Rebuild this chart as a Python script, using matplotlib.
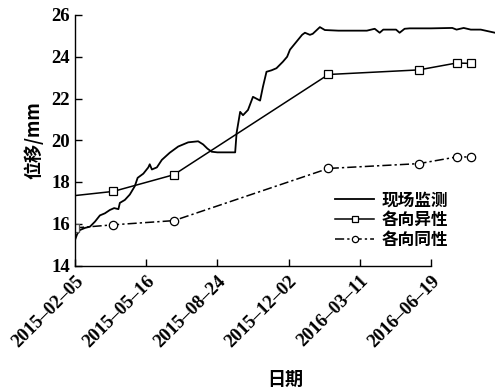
import numpy as np
import pandas as pd
import matplotlib
matplotlib.use("Agg")
import matplotlib.pyplot as plt

plt.rcParams['font.family'] = ['Liberation Serif', 'Noto Sans CJK SC']

start = pd.Timestamp("2015-02-05")

# field monitoring curve (days after 2015-02-05, displacement mm)
mon_days = [0, 3, 7, 14, 21, 28, 35, 42, 49, 55, 61, 63, 70, 77, 84, 88, 96, 103, 105, 108,
            115, 122, 133, 145, 159, 173, 180, 186, 192, 200, 210, 225, 227, 232, 236, 243,
            250, 260, 264, 269, 276, 283, 292, 298, 302, 319, 323, 330, 334, 344, 351, 370,
            390, 410, 421, 428, 433, 440, 451, 456, 463, 470, 500, 530, 536, 546, 556, 570, 590]
mon_vals = [15.22, 15.5, 15.7, 15.8, 15.86, 16.1, 16.4, 16.5, 16.66, 16.75, 16.7, 17.0, 17.14,
            17.4, 17.8, 18.2, 18.4, 18.7, 18.85, 18.6, 18.7, 19.06, 19.4, 19.7, 19.9, 19.95,
            19.8, 19.6, 19.45, 19.42, 19.42, 19.42, 20.35, 21.36, 21.2, 21.45, 22.08, 21.9,
            22.56, 23.28, 23.35, 23.45, 23.76, 24.0, 24.34, 25.05, 25.15, 25.05, 25.1, 25.42,
            25.28, 25.25, 25.25, 25.25, 25.34, 25.15, 25.3, 25.3, 25.3, 25.15, 25.34, 25.36,
            25.36, 25.38, 25.3, 25.38, 25.3, 25.3, 25.15]

# anisotropic model
aniso_days = [0, 54, 139, 356, 483, 536, 556]
aniso_vals = [17.35, 17.55, 18.35, 23.15, 23.37, 23.7, 23.68]

# isotropic model
iso_days = [0, 54, 139, 356, 483, 536, 556]
iso_vals = [15.8, 15.95, 16.15, 18.65, 18.88, 19.2, 19.2]

tick_labels = ["2015-02-05", "2015-05-16", "2015-08-24", "2015-12-02", "2016-03-11", "2016-06-19"]

fig = plt.figure(figsize=(4.95, 3.88), dpi=100)
ax = fig.add_axes([75/495, 1 - 265.5/388, 420/495, 250.5/388])

ax.plot(mon_days, mon_vals, color='black', lw=1.3, label='现场监测')
ax.plot(aniso_days, aniso_vals, color='black', lw=1.1, marker='s', markevery=list(range(1, 7)),
        ms=5.5, mfc='white', mec='black', mew=0.9, label='各向异性')
ax.plot(iso_days, iso_vals, color='black', lw=1.1, ls=(0, (6, 2, 1.5, 2)), marker='o',
        markevery=list(range(1, 7)), ms=6, mfc='white', mec='black', mew=0.9, label='各向同性')
ax.plot(iso_days[:1], iso_vals[:1], ls='none', marker='s', ms=5.5, mfc='white', mec='#555555', mew=0.9)

tick_days = [(pd.Timestamp(t) - start).days for t in tick_labels]
ax.set_xticks(tick_days)
ax.set_xticklabels([t.replace('-', '–') for t in tick_labels], rotation=45, ha='right',
                   rotation_mode='anchor', fontsize=13.5, fontweight='bold')
ax.set_xlim(0, 590)
ax.set_ylim(14, 26)
ax.set_yticks(np.arange(14, 27, 2))
for lb in ax.get_yticklabels():
    lb.set_fontweight('bold')
ax.tick_params(axis='y', labelsize=13.5)
ax.tick_params(direction='in', length=5, width=1)
ax.tick_params(axis='x', pad=5)
ax.spines['top'].set_visible(False)
ax.spines['right'].set_visible(False)
ax.spines['bottom'].set_bounds(0, tick_days[-1])
for s in ['left', 'bottom']:
    ax.spines[s].set_linewidth(1)

ax.set_xlabel('日期', family=['Noto Sans CJK SC'], fontsize=13, fontweight='bold', labelpad=14)
ax.set_ylabel('位移/mm', family=['Noto Sans CJK SC', 'Liberation Serif'], fontsize=13,
              fontweight='bold', labelpad=6)

leg = ax.legend(loc='upper left', bbox_to_anchor=(0.6, 0.33), frameon=False,
                prop={'family': 'Noto Sans CJK SC', 'size': 12, 'weight': 'bold'},
                handlelength=2.3, handletextpad=0.5, labelspacing=0.1, borderpad=0, markerscale=0.75)

fig.savefig('out.png', dpi=100)
